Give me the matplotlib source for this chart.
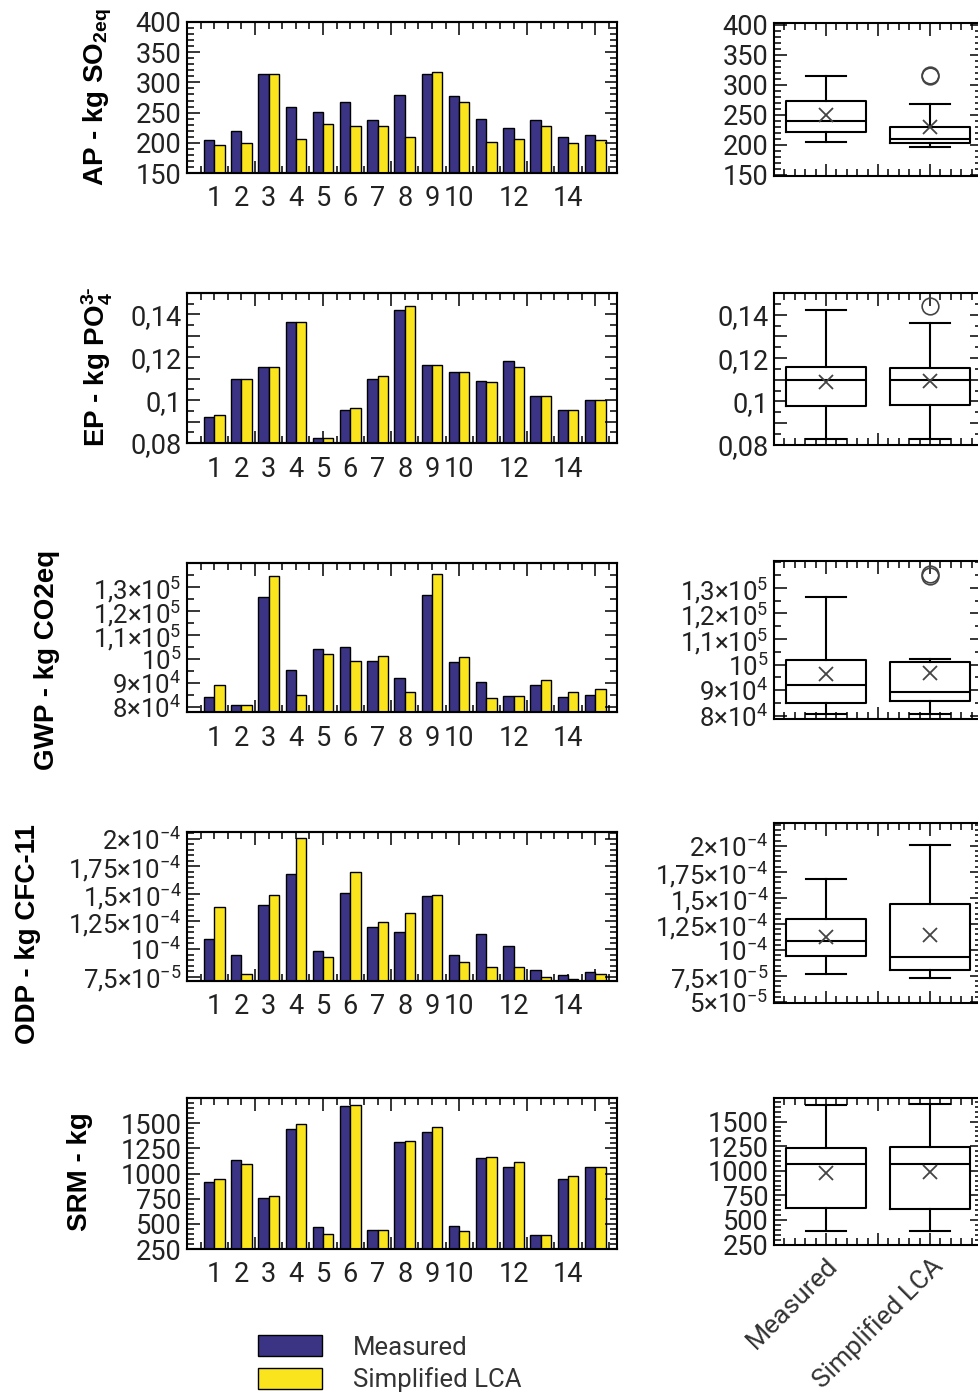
import numpy as np
import matplotlib
matplotlib.use('Agg')
import matplotlib.pyplot as plt
from matplotlib.ticker import MultipleLocator

plt.rcParams['font.family'] = ['Roboto', 'DejaVu Sans']
plt.rcParams['mathtext.fontset'] = 'custom'
plt.rcParams['mathtext.rm'] = 'Roboto'

# ---- data ----
cases = np.arange(1, 16)
case_tick_pos = [1, 2, 3, 4, 5, 6, 7, 8, 9, 10, 12, 14]
case_tick_labels = ['1', '2', '3', '4', '5', '6', '7', '8', '9', '10', '12', '14']
series = ['Measured', 'Simplified LCA']

ap_meas = [204, 219, 314, 260, 251, 268, 237, 279, 314, 277, 239, 225, 237, 210, 213]
ap_simp = [196, 199, 314, 207, 231, 228, 228, 210, 317, 268, 202, 207, 228, 199, 204]

ep_meas = [0.0921, 0.1099, 0.1155, 0.1363, 0.0825, 0.0952, 0.1099, 0.1422, 0.1162,
           0.1131, 0.1091, 0.1181, 0.1018, 0.0952, 0.1002]
ep_simp = [0.0929, 0.1099, 0.1155, 0.1363, 0.0825, 0.0963, 0.1114, 0.1438, 0.1162,
           0.1131, 0.1083, 0.1155, 0.1018, 0.0952, 0.1002]

gwp_meas = [84200, 80800, 125900, 95600, 104400, 105000, 99200, 92000, 126500,
            98700, 90600, 84800, 89200, 84200, 84900]
gwp_simp = [89100, 80800, 134500, 84900, 102100, 99200, 101400, 86200, 135300,
            100700, 84000, 84800, 91500, 86300, 87700]

odp_meas = [10.87e-5, 9.45e-5, 14.03e-5, 16.83e-5, 9.81e-5, 15.11e-5, 11.98e-5, 11.53e-5,
            14.78e-5, 9.45e-5, 11.35e-5, 10.29e-5, 8.09e-5, 7.64e-5, 7.91e-5]
odp_simp = [13.82e-5, 7.73e-5, 14.93e-5, 20.09e-5, 9.30e-5, 16.98e-5, 12.43e-5, 13.22e-5,
            14.93e-5, 8.85e-5, 8.40e-5, 8.40e-5, 7.43e-5, 7.28e-5, 7.76e-5]

srm_meas = [912, 1137, 757, 1442, 465, 1667, 442, 1310, 1409, 482, 1151, 1065, 392, 945, 1065]
srm_simp = [949, 1098, 773, 1495, 396, 1684, 442, 1323, 1459, 425, 1167, 1117, 392, 978, 1065]

# y tick values and labels
ap_ticks = [150, 200, 250, 300, 350, 400]
ap_labels = ['150', '200', '250', '300', '350', '400']
ep_ticks = [0.08, 0.09, 0.10, 0.11, 0.12, 0.13, 0.14, 0.15]
ep_labels = ['0,08', '', '0,1', '', '0,12', '', '0,14', '']
gwp_ticks = [8e4, 9e4, 1e5, 1.1e5, 1.2e5, 1.3e5]
gwp_labels = [r'$\mathregular{8{\times}10^4}$', r'$\mathregular{9{\times}10^4}$',
              r'$\mathregular{10^5}$', r'$\mathregular{1{,}1{\times}10^5}$',
              r'$\mathregular{1{,}2{\times}10^5}$', r'$\mathregular{1{,}3{\times}10^5}$']
odp_ticks = [5e-5, 7.5e-5, 1e-4, 1.25e-4, 1.5e-4, 1.75e-4, 2e-4]
odp_labels = [r'$\mathregular{5{\times}10^{-5}}$', r'$\mathregular{7{,}5{\times}10^{-5}}$',
              r'$\mathregular{10^{-4}}$', r'$\mathregular{1{,}25{\times}10^{-4}}$',
              r'$\mathregular{1{,}5{\times}10^{-4}}$', r'$\mathregular{1{,}75{\times}10^{-4}}$',
              r'$\mathregular{2{\times}10^{-4}}$']
srm_ticks = [250, 500, 750, 1000, 1250, 1500]
srm_labels = ['250', '500', '750', '1000', '1250', '1500']

ylabels = ['AP - kg SO$\\mathregular{_{2eq}}$', 'EP - kg PO$\\mathregular{_4^{3\u2010}}$',
           'GWP - kg CO2eq', 'ODP - kg CFC-11', 'SRM - kg']

rows = [
    (ap_meas, ap_simp, ap_ticks, ap_labels, 10),
    (ep_meas, ep_simp, ep_ticks, ep_labels, 0.005),
    (gwp_meas, gwp_simp, gwp_ticks, gwp_labels, 5000),
    (odp_meas, odp_simp, odp_ticks, odp_labels, 5e-6),
    (srm_meas, srm_simp, srm_ticks, srm_labels, 50),
]

# ---- layout (pixels in a 979x1394 canvas) ----
W, H = 979, 1394
bar_px = [(22, 173), (293, 443), (563, 712), (832, 981), (1098, 1249)]
box_px = [(23, 176), (293, 445), (561, 719), (823, 1003), (1098, 1245)]
bar_ylim = [(150, 400), (0.08, 0.15), (7.8e4, 1.4e5), (7.1e-5, 2.06e-4), (250, 1750)]
box_ylim = [(148, 403), (0.0799, 0.150), (7.87e4, 1.405e5), (4.9e-5, 2.22e-4), (245, 1740)]
label_xy = [(-0.207, 0.50), (-0.209, 0.51), (-0.326, 0.35), (-0.37, 0.315), (-0.249, 0.51)]
tick_size = [19.5, 19.5, 18.5, 18.5, 19.5]

blue = '#3b3384'
yellow = '#f9e41e'
tick_col = '#222222'
bw = 0.38

fig = plt.figure(figsize=(W / 100, H / 100), dpi=100)


def style_y(ax, ticks, labels, minor, lims, size):
    ax.set_yticks(ticks, labels)
    ax.set_ylim(*lims)
    ax.yaxis.set_minor_locator(MultipleLocator(minor))
    ax.tick_params(axis='y', which='both', direction='in', left=True, right=True,
                   labelsize=size, labelcolor=tick_col, pad=4)
    ax.tick_params(axis='y', which='major', length=9, width=1.1)
    ax.tick_params(axis='y', which='minor', length=5, width=1.1)
    for s in ax.spines.values():
        s.set_linewidth(1.5)


for i, (meas, simp, ticks, labels, minor) in enumerate(rows):
    t, b = bar_px[i]
    ax = fig.add_axes([187 / W, 1 - b / H, 430 / W, (b - t) / H])
    b1 = ax.bar(cases - bw / 2, meas, bw, color=blue, edgecolor='black', lw=1.0, label=series[0])
    b2 = ax.bar(cases + bw / 2, simp, bw, color=yellow, edgecolor='black', lw=1.0, label=series[1])
    ax.set_xlim(0, 15.8)
    style_y(ax, ticks, labels, minor, bar_ylim[i], tick_size[i])
    ax.set_xticks(case_tick_pos, case_tick_labels)
    ax.tick_params(axis='x', which='major', length=0, labelsize=19.5, labelcolor=tick_col, pad=9)
    for loc in ['top', 'bottom']:
        sec = ax.secondary_xaxis(loc)
        sec.xaxis.set_major_locator(MultipleLocator(2.5))
        sec.xaxis.set_minor_locator(MultipleLocator(0.5))
        sec.tick_params(which='both', direction='in', labelbottom=False, labeltop=False, width=1.1)
        sec.tick_params(which='major', length=9)
        sec.tick_params(which='minor', length=5)
        sec.spines[loc].set_linewidth(1.5)
    ax.set_ylabel(ylabels[i], family=['Liberation Sans', 'DejaVu Sans'], fontweight='bold',
                  fontsize=20, va='center')
    ax.yaxis.set_label_coords(*label_xy[i])
    if i == 0:
        handles = [b1, b2]

    # box plot of the same data
    t, b = box_px[i]
    bx = fig.add_axes([774 / W, 1 - b / H, 208 / W, (b - t) / H])
    bx.boxplot([meas, simp], positions=[1, 2], widths=0.77, whis=1.5, showmeans=True,
               capwidths=0.38,
               boxprops=dict(color='black', lw=1.5),
               medianprops=dict(color='black', lw=1.5),
               whiskerprops=dict(color='black', lw=1.5),
               capprops=dict(color='black', lw=1.5),
               meanprops=dict(marker='x', markeredgecolor='#444444', markersize=10, mew=1.3),
               flierprops=dict(marker='o', markerfacecolor='none', markeredgecolor='#444444',
                               markersize=12, mew=1.2))
    bx.set_xlim(0.5, 2.5)
    style_y(bx, ticks, labels, minor, box_ylim[i], tick_size[i])
    if i == 4:
        bx.set_xticks([1, 1.5, 2], [series[0], '', series[1]], rotation=45, ha='right',
                      rotation_mode='anchor', fontsize=19, color='#333333')
    else:
        bx.set_xticks([1, 1.5, 2], ['', '', ''])
    bx.xaxis.set_minor_locator(MultipleLocator(0.1))
    bx.tick_params(axis='x', which='both', direction='in', top=True, bottom=True, width=1.1, pad=6)
    bx.tick_params(axis='x', which='major', length=9)
    bx.tick_params(axis='x', which='minor', length=5)

leg = fig.legend(handles=handles, labels=series, loc='upper left',
                 bbox_to_anchor=(258 / W, 1 - 1335 / H), frameon=False, fontsize=18.5,
                 handlelength=2.5, handleheight=0.9, handletextpad=1.2, labelspacing=0.3,
                 borderpad=0, borderaxespad=0)
for txt in leg.get_texts():
    txt.set_color('#333333')

fig.savefig('out.png', dpi=100)
